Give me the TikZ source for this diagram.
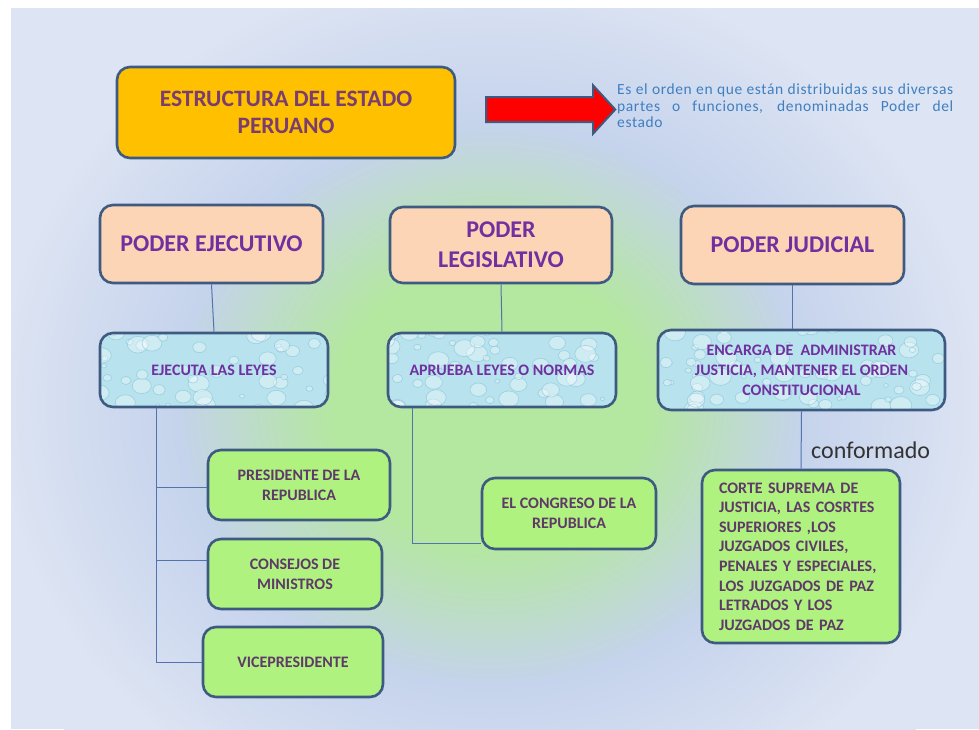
\documentclass[tikz,border=0pt]{standalone}
\usepackage{fontspec}
\setmainfont{Carlito}
\usetikzlibrary{shapes.arrows}
\definecolor{panelc}{HTML}{DDE4F3}
\definecolor{glowg}{HTML}{B4E7A0}
\definecolor{glowb}{HTML}{C5D3EC}
\definecolor{edgec}{HTML}{3E5A80}
\definecolor{titlefill}{HTML}{FFC000}
\definecolor{titletxt}{HTML}{7A3D70}
\definecolor{purpc}{HTML}{7030A0}
\definecolor{peach}{HTML}{FBD5B5}
\definecolor{waterc}{HTML}{B8E3EE}
\definecolor{dropc}{HTML}{78BCD2}
\definecolor{greenc}{HTML}{B0F280}
\definecolor{greentxt}{HTML}{5F3A68}
\definecolor{descc}{HTML}{3F7FC0}
\definecolor{confc}{HTML}{333333}
\definecolor{connc}{HTML}{5373AE}
\pgfdeclareradialshading{bgglow}{\pgfpoint{0bp}{0bp}}{color(0bp)=(glowg); color(7bp)=(glowg); color(14bp)=(glowb); color(22bp)=(panelc); color(25bp)=(panelc); color(50bp)=(panelc)}
\tikzset{
  boxline/.style={draw=edgec, line width=2.6pt, rounded corners=13pt, inner sep=0pt},
  titlebox/.style={boxline, fill=titlefill, text=titletxt, align=center,
    font=\fontsize{23.5}{27}\selectfont\bfseries},
  poderbox/.style={boxline, fill=peach, text=purpc, align=center,
    font=\fontsize{24}{30}\selectfont\bfseries},
  waterbox/.style={boxline, fill=waterc, text=purpc, align=center,
    font=\fontsize{16}{20}\selectfont\bfseries,
    path picture={
      \foreach \i in {1,...,70}{
        \pgfmathsetmacro\dx{300*rnd-150}
        \pgfmathsetmacro\dy{90*rnd-45}
        \pgfmathsetmacro\dr{2+9*rnd}
        \fill[white, opacity=0.35] ([shift={(\dx pt,\dy pt)}]path picture bounding box.center) ellipse ({\dr pt} and {0.8*\dr pt});
        \draw[dropc, line width=0.7pt, opacity=0.5] ([shift={(\dx pt,\dy pt)}]path picture bounding box.center) ellipse ({\dr pt} and {0.8*\dr pt});
      }
    }},
  greenbox/.style={boxline, fill=greenc, text=greentxt, align=center,
    font=\fontsize{16}{20}\selectfont\bfseries},
  conn/.style={draw=connc, line width=1pt},
  desc/.style={text=descc, text width=336pt, align=justify, inner sep=0pt,
    font=\fontsize{15.5}{16.5}\selectfont\addfontfeature{LetterSpace=4}},
}
\begin{document}
\begin{tikzpicture}[x=1pt,y=-1pt]
\pgfmathsetseed{7}
\useasboundingbox (0,0) rectangle (979,729);
\fill[white] (0,0) rectangle (979,729);
\fill[panelc] (11,8) rectangle (979,729);
\begin{scope}
  \clip (11,8) rectangle (979,729);
  \shade[shading=bgglow] (490,405) ellipse (560 and 500);
\end{scope}

% title and arrow
\node[titlebox, minimum width=338pt, minimum height=91pt] (title) at (286,112.5) {ESTRUCTURA DEL ESTADO\\PERUANO};
\node[single arrow, draw=edgec, line width=2pt, fill=red, inner xsep=0pt, inner ysep=11.5pt,
  minimum height=129pt, single arrow head extend=11.5pt,
  single arrow tip angle=95] (arrow) at (545,109.5) {};
\node[desc, anchor=west] (desc) at (617,106) {\hyphenpenalty=10000 Es el orden en que están distribuidas sus diversas\linebreak partes o funciones, denominadas Poder del\linebreak estado};

% poderes
\node[poderbox, minimum width=223pt, minimum height=78pt] (pe) at (211.5,244) {PODER EJECUTIVO};
\node[poderbox, minimum width=222pt, minimum height=76pt] (pl) at (501,245) {PODER\\LEGISLATIVO};
\node[poderbox, minimum width=223pt, minimum height=78pt] (pj) at (792.5,245) {PODER JUDICIAL};

% functions
\node[waterbox, minimum width=228pt, minimum height=74pt] (we) at (214,370) {EJECUTA LAS LEYES};
\node[waterbox, minimum width=228pt, minimum height=74pt] (wl) at (502,370) {APRUEBA LEYES O NORMAS};
\node[waterbox, minimum width=287pt, minimum height=80pt] (wj) at (801.5,370) {ENCARGA DE\ \ ADMINISTRAR\\JUSTICIA, MANTENER EL ORDEN\\CONSTITUCIONAL};

% members
\node[greenbox, minimum width=182pt, minimum height=70pt] (g1) at (299,485) {PRESIDENTE DE LA\\REPUBLICA};
\node[greenbox, minimum width=174pt, minimum height=70pt] (g2) at (295,574) {CONSEJOS DE\\MINISTROS};
\node[greenbox, minimum width=180pt, minimum height=70pt] (g3) at (293,662) {VICEPRESIDENTE};
\node[greenbox, minimum width=174pt, minimum height=71pt] (g4) at (569,513.5) {EL CONGRESO DE LA\\REPUBLICA};
\node[greenbox, minimum width=198pt, minimum height=173pt, text width=164pt, align=left,
  font=\fontsize{16}{19.6}\selectfont\bfseries] (g5) at (801,556.5) {CORTE SUPREMA DE\\JUSTICIA, LAS COSRTES\\SUPERIORES ,LOS\\JUZGADOS CIVILES,\\PENALES Y ESPECIALES,\\LOS JUZGADOS DE PAZ\\LETRADOS Y LOS\\JUZGADOS DE PAZ};
\node[anchor=base west, inner sep=0pt, text=confc, font=\fontsize{24}{28}\selectfont] (conf) at (811,458) {conformado};

% connectors
\draw[conn] (pe.south) -- (we.north);
\draw[conn] (pl.south) -- (wl.north);
\draw[conn] (pj.south) -- (pj.south |- wj.north);
\coordinate (ejt) at ([xshift=58pt]we.south west);
\draw[conn] (ejt) |- ([yshift=-2pt]g1.west);
\draw[conn] (ejt) |- ([yshift=14pt]g2.west);
\draw[conn] (ejt) |- (g3.west);
\coordinate (lgt) at ([xshift=26pt]wl.south west);
\draw[conn] (lgt) |- ([yshift=-29.5pt]g4.west);
\draw[conn] (wj.south) -- (g5.north);
\end{tikzpicture}
\end{document}
